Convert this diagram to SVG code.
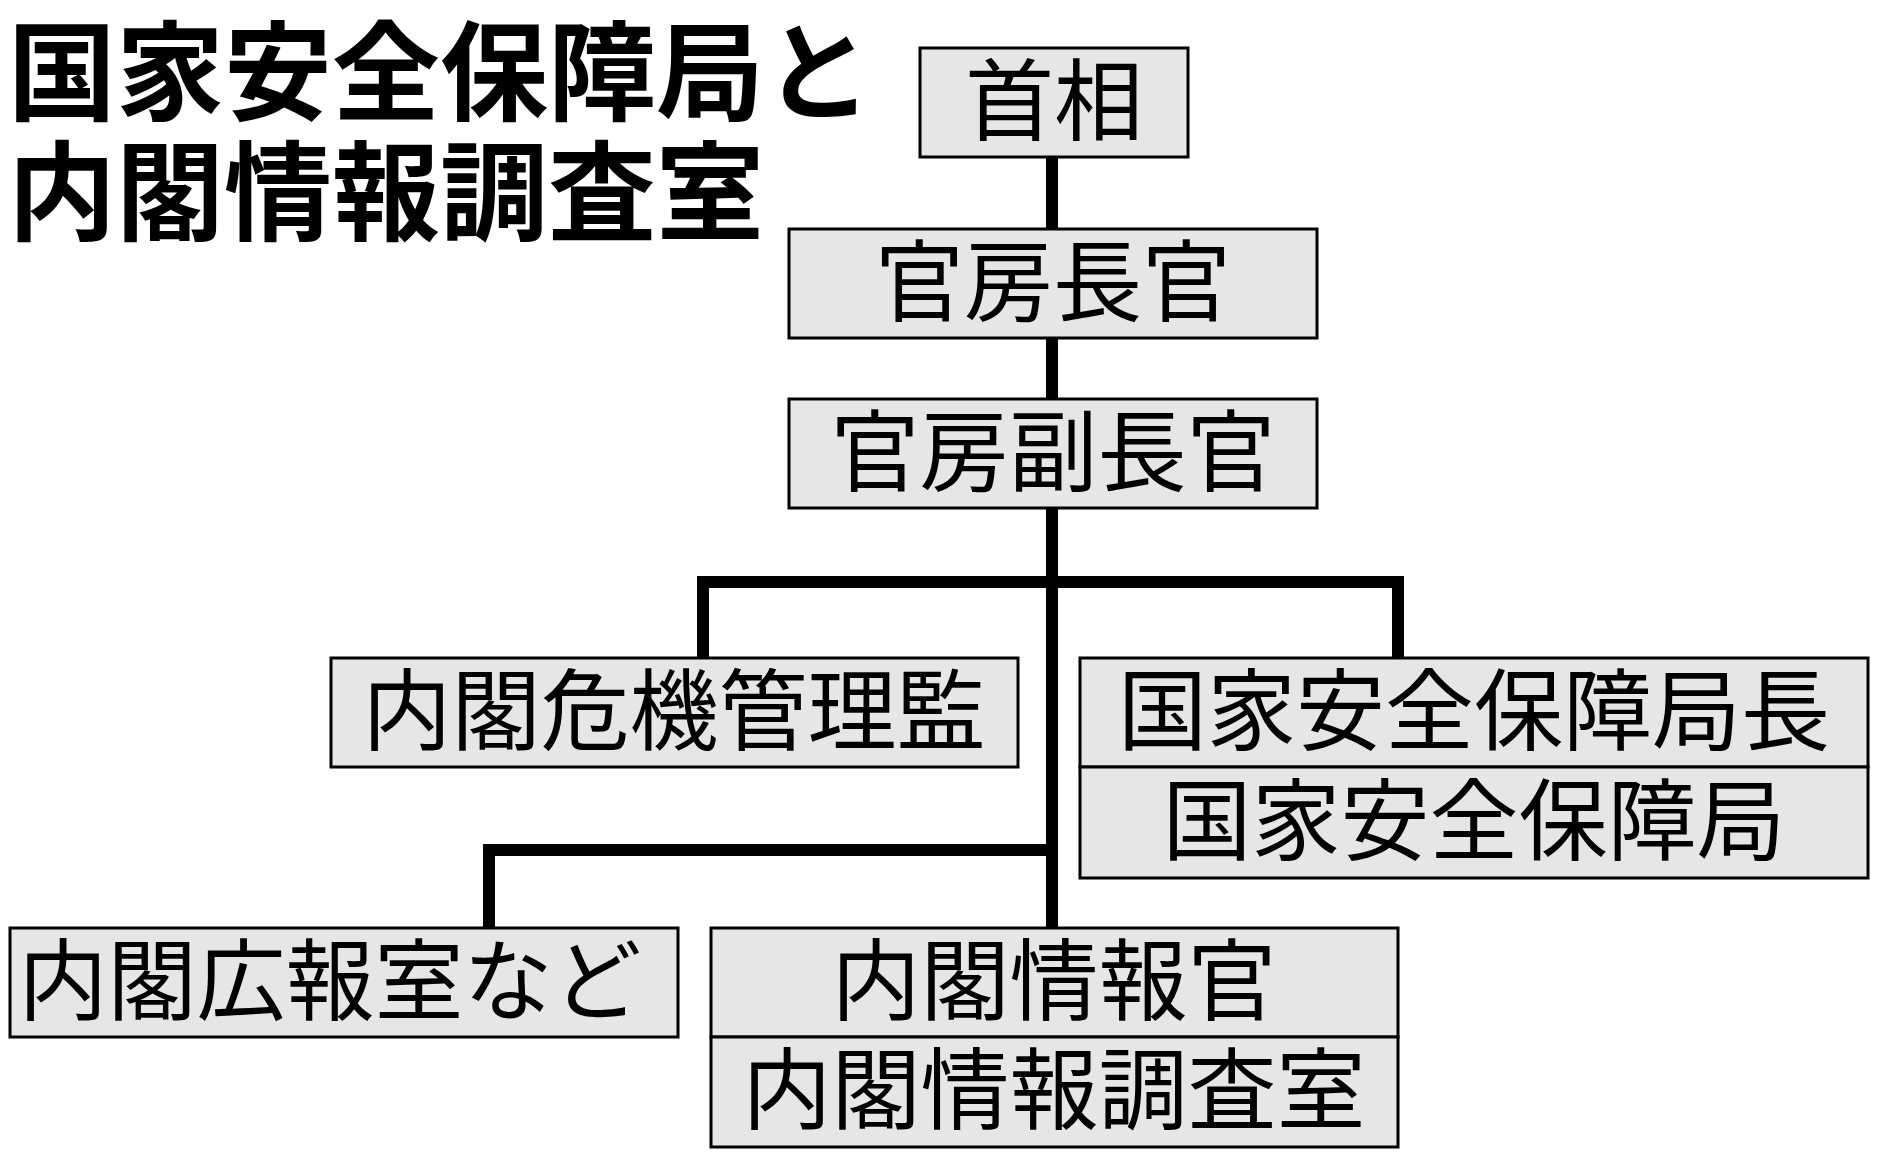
<svg xmlns="http://www.w3.org/2000/svg" width="1878" height="1158" viewBox="0 0 1878 1158">
<style>
.b{fill:#e6e6e6;stroke:#000;stroke-width:3}
.t{font-family:"Noto Sans CJK JP",sans-serif;font-size:89px;text-anchor:middle;fill:#000}
.h{font-family:"Noto Sans CJK JP",sans-serif;font-size:108px;font-weight:bold;fill:#000}
.c{fill:none;stroke:#000;stroke-width:12}
</style>
<rect width="1878" height="1158" fill="#fff"/>
<g id="title"><text class="h" x="8" y="112">国家安全保障局と</text><text class="h" x="8" y="232">内閣情報調査室</text></g>
<g id="connectors">
<path class="c" d="M1052 157V928M703 658V582H1398V658M489 928V850H1052"/>
</g>
<g id="n1"><rect class="b" x="920" y="48" width="268" height="109"/><text class="t" x="1054" y="133">首相</text></g>
<g id="n2"><rect class="b" x="789" y="229" width="528" height="109"/><text class="t" x="1053" y="314">官房長官</text></g>
<g id="n3"><rect class="b" x="789" y="399" width="528" height="109"/><text class="t" x="1053" y="484">官房副長官</text></g>
<g id="n4"><rect class="b" x="331" y="658" width="687" height="109"/><text class="t" x="674" y="743">内閣危機管理監</text></g>
<g id="n5"><rect class="b" x="1080" y="658" width="788" height="109"/><text class="t" x="1474" y="743">国家安全保障局長</text>
<rect class="b" x="1080" y="767" width="788" height="111"/><text class="t" x="1474" y="853">国家安全保障局</text></g>
<g id="n6"><rect class="b" x="10" y="928" width="668" height="109"/><text class="t" x="330" y="1013">内閣広報室など</text></g>
<g id="n7"><rect class="b" x="711" y="928" width="687" height="109"/><text class="t" x="1054" y="1013">内閣情報官</text>
<rect class="b" x="711" y="1037" width="687" height="110"/><text class="t" x="1054" y="1122">内閣情報調査室</text></g>
</svg>
